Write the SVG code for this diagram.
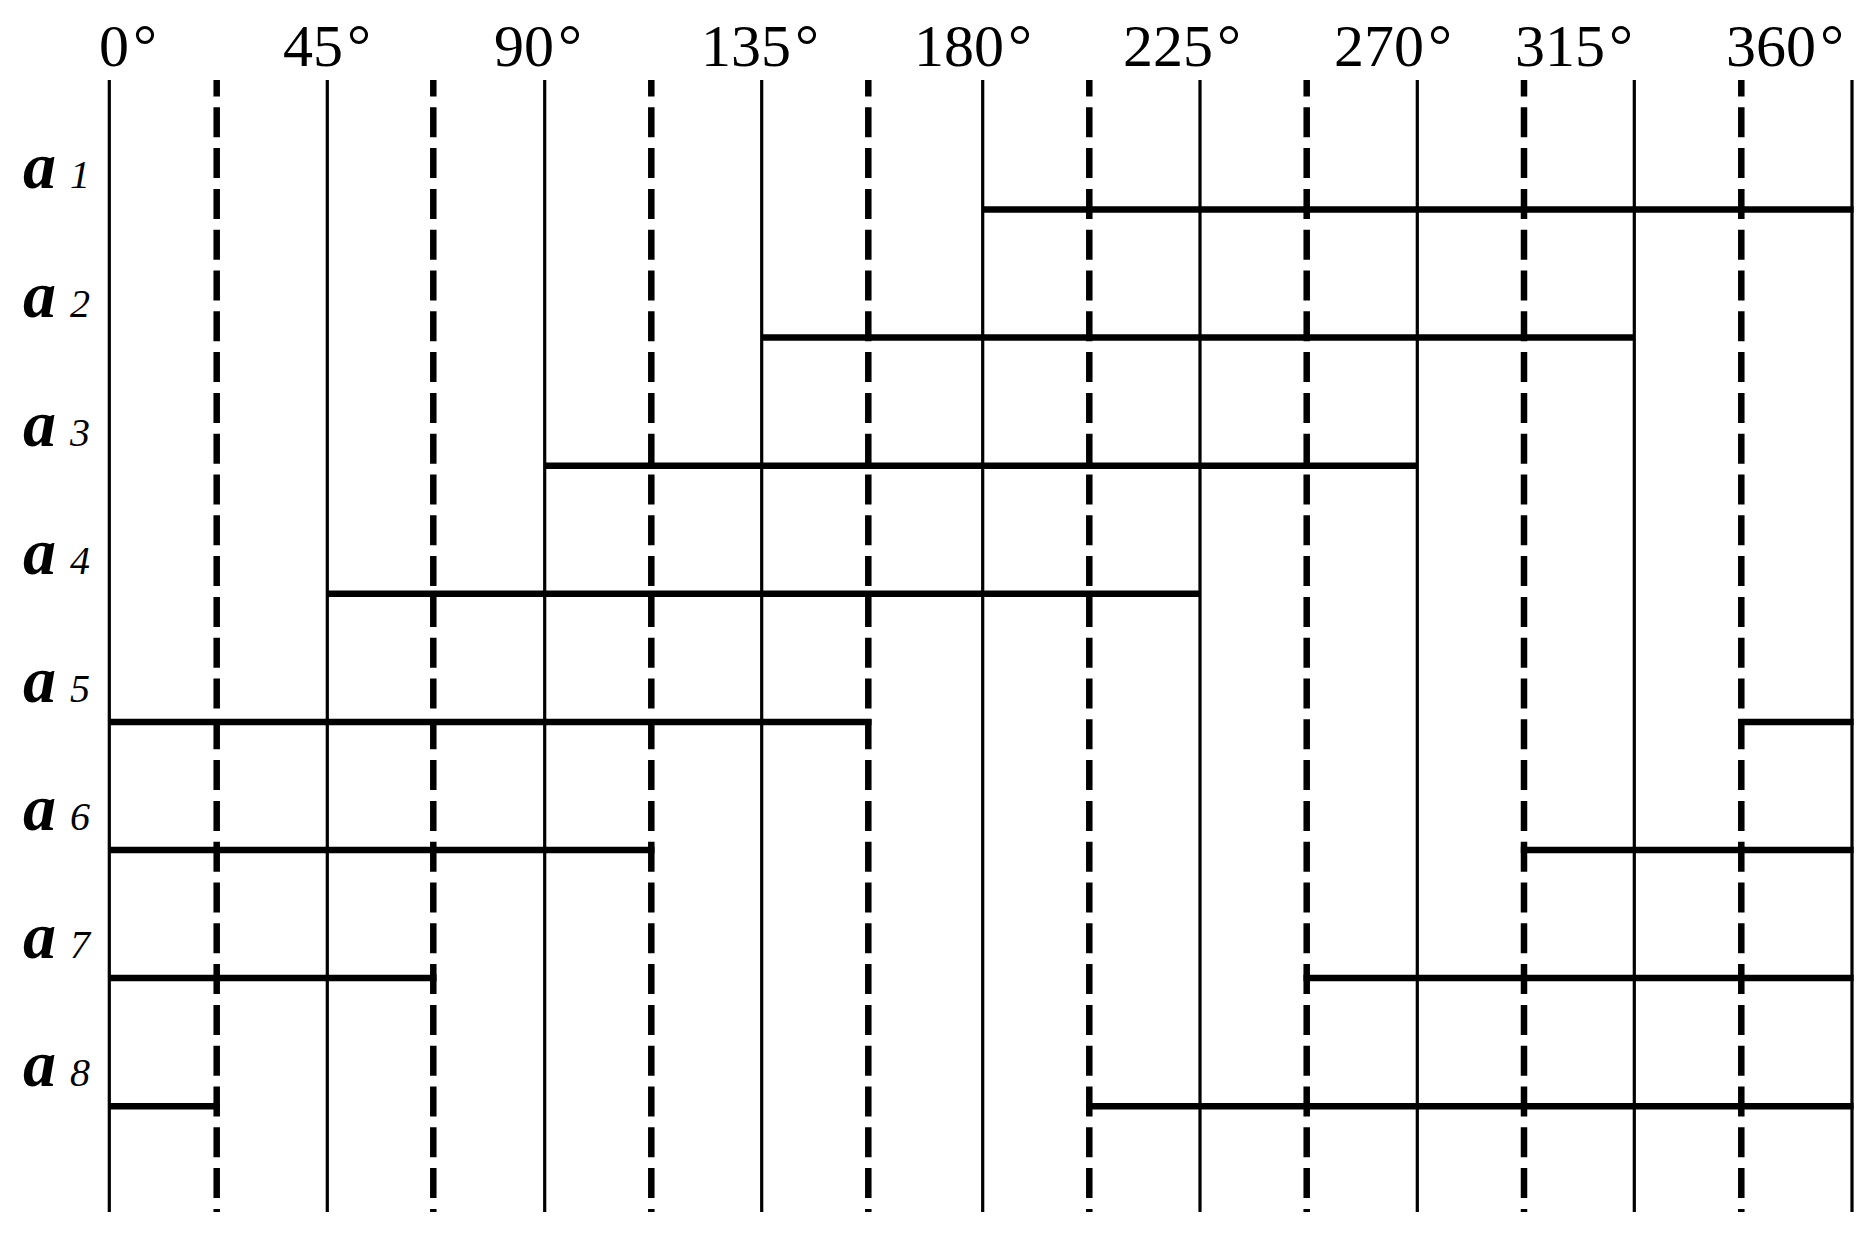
<svg xmlns="http://www.w3.org/2000/svg" width="1875" height="1247" viewBox="0 0 1875 1247">
<style>
.deg{font-family:"Liberation Serif","Times New Roman",serif;font-size:60px;fill:#000}
.a{font-family:"Liberation Serif","Times New Roman",serif;font-size:66px;font-weight:bold;font-style:italic;fill:#000}
.sub{font-family:"Liberation Serif","Times New Roman",serif;font-size:40px;font-style:italic;fill:#000}
.solid{stroke:#000;stroke-width:3.2;fill:none}
.dash{stroke:#000;stroke-width:6.5;fill:none;stroke-dasharray:30 10.8;stroke-dashoffset:13.5}
.bar{stroke:#000;stroke-width:6.5;fill:none;stroke-linecap:butt}
</style>
<rect width="1875" height="1247" fill="#fff"/>
<g id="angle-labels">
<text class="deg" x="99" y="66">0<tspan dx="4">°</tspan></text>
<text class="deg" x="283" y="66">45<tspan dx="4">°</tspan></text>
<text class="deg" x="494" y="66">90<tspan dx="4">°</tspan></text>
<text class="deg" x="701" y="66">135<tspan dx="4">°</tspan></text>
<text class="deg" x="914" y="66">180<tspan dx="4">°</tspan></text>
<text class="deg" x="1123" y="66">225<tspan dx="4">°</tspan></text>
<text class="deg" x="1334" y="66">270<tspan dx="4">°</tspan></text>
<text class="deg" x="1515" y="66">315<tspan dx="4">°</tspan></text>
<text class="deg" x="1726" y="66">360<tspan dx="4">°</tspan></text>
</g>
<g id="grid">
<path class="solid" d="M109.3 80V1212M327.3 80V1212M544.7 80V1212M761.7 80V1212M982.7 80V1212M1200 80V1212M1417.3 80V1212M1634.3 80V1212M1852 80V1212"/>
<path class="dash" d="M216.7 80V1212"/>
<path class="dash" d="M433.3 80V1212"/>
<path class="dash" d="M651.3 80V1212"/>
<path class="dash" d="M868.3 80V1212"/>
<path class="dash" d="M1089.3 80V1212"/>
<path class="dash" d="M1306.7 80V1212"/>
<path class="dash" d="M1524 80V1212"/>
<path class="dash" d="M1741.3 80V1212"/>
</g>
<g id="row-a1"><text class="a" x="23" y="188">a</text><text class="sub" x="70" y="188">1</text><path class="bar" d="M982.7 209.5H1853.6"/></g>
<g id="row-a2"><text class="a" x="23" y="317">a</text><text class="sub" x="70" y="317">2</text><path class="bar" d="M761.7 337.6H1634.3"/></g>
<g id="row-a3"><text class="a" x="23" y="446">a</text><text class="sub" x="70" y="446">3</text><path class="bar" d="M544.7 465.7H1417.3"/></g>
<g id="row-a4"><text class="a" x="23" y="574">a</text><text class="sub" x="70" y="574">4</text><path class="bar" d="M327.3 593.8H1200"/></g>
<g id="row-a5"><text class="a" x="23" y="702">a</text><text class="sub" x="70" y="702">5</text><path class="bar" d="M109.3 721.9H871.5M1738.1 721.9H1853.6"/></g>
<g id="row-a6"><text class="a" x="23" y="830">a</text><text class="sub" x="70" y="830">6</text><path class="bar" d="M109.3 850H654.5M1520.8 850H1853.6"/></g>
<g id="row-a7"><text class="a" x="23" y="958">a</text><text class="sub" x="70" y="958">7</text><path class="bar" d="M109.3 978.1H436.5M1303.5 978.1H1853.6"/></g>
<g id="row-a8"><text class="a" x="23" y="1086">a</text><text class="sub" x="70" y="1086">8</text><path class="bar" d="M109.3 1106.2H219.9M1086.1 1106.2H1853.6"/></g>
<g id="connectors"/>
</svg>
